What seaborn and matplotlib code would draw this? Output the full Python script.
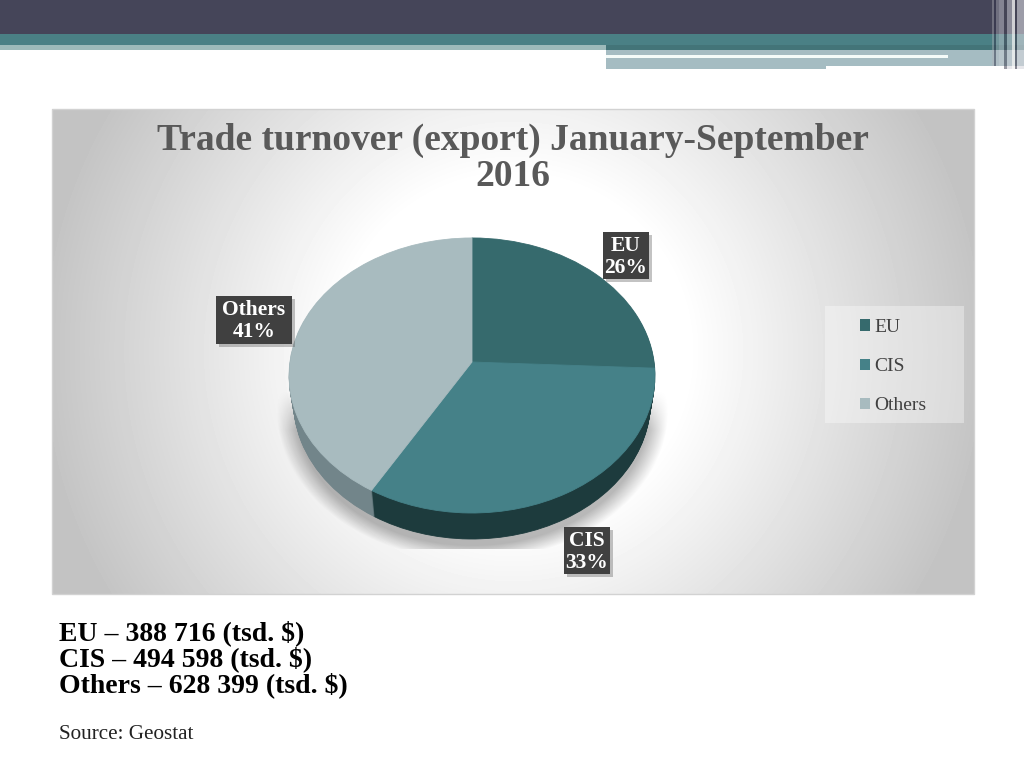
import numpy as np
import matplotlib
matplotlib.use('Agg')
import matplotlib.pyplot as plt
from matplotlib.patches import Patch, Rectangle
from matplotlib.transforms import Affine2D, Transform
import seaborn as sns

categories = ['EU', 'CIS', 'Others']
values = [388716, 494598, 628399]
shares = [26, 33, 41]
title_lines = ['Trade turnover (export) January-September', '2016']
source = 'Source: Geostat'

top_colors = ['#366a6d', '#458188', '#a8bbbf']
wall_colors = ['#1d3b3d', '#1d3b3d', '#72858a']


class TiltedDisc(Transform):
    """Unit circle seen at a tilt, output in pixels around the pie centre (y down)."""
    input_dims = output_dims = 2

    def transform_non_affine(self, xy):
        xy = np.asarray(xy)
        d = 1 + 0.098 * xy[:, 1]
        return np.column_stack([182.1 * xy[:, 0] / d, -136.2 * xy[:, 1] / d])


sns.set_theme(style='white')
plt.rcParams['font.family'] = ['Liberation Serif', 'DejaVu Serif']

W, H = 1024, 768
fig = plt.figure(figsize=(W / 100, H / 100), dpi=100, facecolor='white')

ax = fig.add_axes([0, 0, 1, 1])
ax.set_axis_off()

# Slide header bands.
bands = [
    (0, 0, 1024, 34, '#454559'),
    (0, 34, 1024, 11, '#4a8085'),
    (0, 45, 606, 5, '#9dbaba'),
    (606, 45, 418, 5, '#437478'),
    (606, 50, 418, 16, '#a5bcc2'),
    (606, 66, 220, 3, '#a5bcc2'),
    (606, 55, 342, 3, '#f4fbf9'),
]
for x, y, w, h, c in bands:
    ax.add_patch(Rectangle((x, y), w, h, fc=c, ec='none'))

# Vertical stripes at the right end of the header.
stripes = [
    (992, 2, '#b0b0b8', 0.4), (994, 2, '#33334a', 0.5), (996, 3, '#c0c0c8', 0.35),
    (999, 5, '#d0d0d8', 0.45), (1004, 3, '#444455', 0.55), (1007, 5, '#d0d0d8', 0.5),
    (1012, 3, '#f4f4f4', 0.8), (1015, 2, '#444455', 0.65), (1017, 7, '#d8d8de', 0.6),
]
for x, w, c, a in stripes:
    ax.add_patch(Rectangle((x, 0), w, 69 if x >= 1004 else 66, fc=c, ec='none', alpha=a))

# Chart panel with a radial gradient.
px, py = np.meshgrid(np.arange(52, 974), np.arange(109, 594))
r = np.hypot(px - 513, py - 351) / 500
grey = 255 - 60 * np.clip((r - 0.35) / 0.6, 0, 1)
ax.imshow(grey, cmap='gray', vmin=0, vmax=255, extent=(52, 974, 594, 109),
          aspect='auto', interpolation='bilinear')
ax.add_patch(Rectangle((52, 109), 922, 485, fc='none', ec='#d2d2d2', lw=1))

# Soft shadow under the pie.
sx, sy = np.meshgrid(np.arange(260, 690), np.arange(390, 549))
sr = np.hypot((sx - 472) / 196, (sy - 410) / 150)
shadow = np.zeros(sx.shape + (4,))
shadow[..., 3] = 0.28 * np.clip((1 - sr) / 0.1, 0, 1) * np.clip((sy - 390) / 40, 0, 1)
ax.imshow(shadow, extent=(260, 690, 549, 390), aspect='auto')

# Pie: layers of the side wall first, then the top face.
cx, cy = 472, 362
depth = 26
layers = []
for off in range(depth, 0, -1):
    wedges, _ = ax.pie(values, colors=wall_colors, startangle=90, counterclock=False)
    layers.append((wedges, Affine2D().scale(1 - 0.025 * off / depth, 1).translate(0, off)))
wedges, _ = ax.pie(values, colors=top_colors, startangle=90, counterclock=False)
layers.append((wedges, Affine2D()))

ax.set_aspect('auto')
ax.set_xlim(0, W)
ax.set_ylim(H, 0)
ax.set_xticks([])
ax.set_yticks([])
for wedges, shift in layers:
    for wedge in wedges:
        wedge.set_edgecolor(wedge.get_facecolor())
        wedge.set_linewidth(0.6)
        wedge.set_transform(TiltedDisc() + shift + Affine2D().translate(cx, cy) + ax.transData)

# Title and data labels.
for line, y in zip(title_lines, [150, 186]):
    ax.text(513, y, line, ha='center', va='baseline', fontsize=27, fontweight='bold',
            color='#595959', zorder=10)

boxes = [(603, 232, 46, 47), (564, 527, 46, 47), (216, 296, 76, 48)]
for cat, share, (x, y, w, h) in zip(categories, shares, boxes):
    ax.add_patch(Rectangle((x + 3, y + 3), w, h, fc='#555555', ec='none', alpha=0.35, zorder=10))
    ax.add_patch(Rectangle((x, y), w, h, fc='#404040', ec='none', zorder=10))
    ax.text(x + w / 2, y + 19, cat, ha='center', va='baseline', color='white',
            fontsize=15.5, fontweight='bold', zorder=11)
    ax.text(x + w / 2, y + 41, f'{share}%', ha='center', va='baseline', color='white',
            fontsize=15.5, fontweight='bold', zorder=11)

# Legend.
ax.add_patch(Rectangle((825, 306), 139, 117, fc='white', ec='none', alpha=0.35))
handles = [Patch(fc=c, ec='none', label=cat) for c, cat in zip(top_colors, categories)]
ax.legend(handles=handles, loc='upper left', bbox_to_anchor=(860 / W, 1 - 319 / H),
          frameon=False, fontsize=14, labelcolor='#404040', handlelength=0.52,
          handleheight=0.52, handletextpad=0.2, labelspacing=1.14, borderpad=0,
          borderaxespad=0)

# Notes under the chart.
for i, (cat, v) in enumerate(zip(categories, values)):
    ax.text(59, 640 + 26 * i, f'{cat} – {v:,} (tsd. $)'.replace(',', ' '), va='baseline',
            fontsize=20, fontweight='bold', color='black')
ax.text(59, 739, source, va='baseline', fontsize=15.2, color='#222222')

fig.savefig('out.png', dpi=100)
